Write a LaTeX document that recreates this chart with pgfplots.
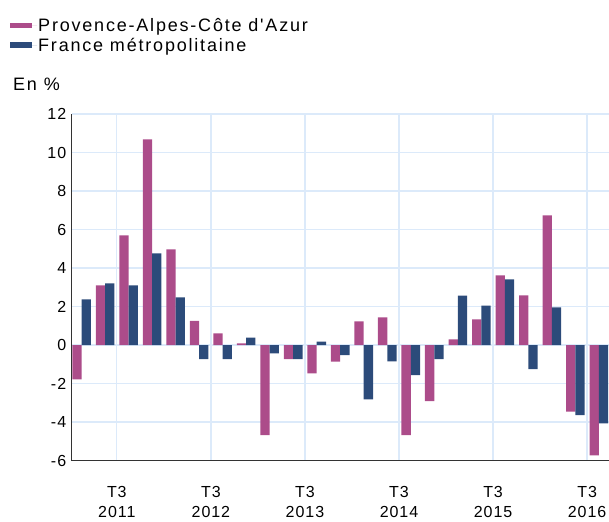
\documentclass[border=0pt]{standalone}
\usepackage{pgfplots}
\pgfplotsset{compat=1.18}
\usepackage{fontspec}
\setmainfont{Liberation Sans}
\newfontfamily\spaced[LetterSpace=10]{Liberation Sans}
\newfontfamily\spacedt[LetterSpace=6]{Liberation Sans}
\definecolor{paca}{HTML}{AC4C8A}
\definecolor{fra}{HTML}{2C4B7A}
\definecolor{gridc}{HTML}{DCEAFA}
\begin{document}
\begin{tikzpicture}
\begin{axis}[
  scale only axis,
  width=537.3bp, height=346.5bp,
  xmin=-0.42, xmax=22.43,
  ymin=-6, ymax=12,
  ytick={-6,-4,...,12},
  xtick={1.5,5.5,9.5,13.5,17.5,21.5},
  xticklabels={{T3\\2011},{T3\\2012},{T3\\2013},{T3\\2014},{T3\\2015},{T3\\2016}},
  xticklabel style={align=center, font=\fontsize{16bp}{20.5bp}\selectfont\spacedt, yshift=-22bp},
  yticklabel style={font=\fontsize{16bp}{18bp}\selectfont\spacedt, xshift=-2bp},
  /pgf/number format/assume math mode=true,
  major tick length=0pt,
  grid=major,
  major grid style={draw=gridc, line width=1.3bp},
  axis lines*=left,
  axis line style={-, draw=black!80, line width=1.3bp},
  ybar, bar width=9.3bp,
  legend style={at={(0,1)}, anchor=north west, xshift=-61.7bp, yshift=97bp,
    draw=none, fill=none, inner sep=0pt, row sep=3bp,
    font=\fontsize{18bp}{20bp}\selectfont\spaced,
    nodes={inner sep=1bp}},
  legend cell align=left,
  legend image code/.code={\fill[#1, draw=none] (0bp,-2.7bp) rectangle (22bp,2.7bp); \path (0bp,0bp) -- (27bp,0bp);},
  clip=false,
]
\addplot[fill=paca, draw=none, bar shift=-4.65bp] coordinates {
(0,-1.78) (1,3.10) (2,5.70) (3,10.68) (4,4.97) (5,1.25) (6,0.61) (7,0.08)
(8,-4.68) (9,-0.74) (10,-1.47) (11,-0.87) (12,1.23) (13,1.44) (14,-4.68)
(15,-2.91) (16,0.29) (17,1.33) (18,3.62) (19,2.58) (20,6.74) (21,-3.46) (22,-5.73)};
\addplot[fill=fra, draw=none, bar shift=4.65bp] coordinates {
(0,2.37) (1,3.20) (2,3.10) (3,4.76) (4,2.48) (5,-0.74) (6,-0.74) (7,0.38)
(8,-0.43) (9,-0.74) (10,0.17) (11,-0.52) (12,-2.82) (13,-0.85) (14,-1.56)
(15,-0.73) (16,2.56) (17,2.04) (18,3.41) (19,-1.25) (20,1.96) (21,-3.64) (22,-4.07)};
\legend{Provence-Alpes-Côte d'Azur, France métropolitaine}
\end{axis}
\node[anchor=base west, inner sep=0pt, font=\fontsize{18bp}{20bp}\selectfont\spaced] at (-58.7bp, 370bp) {En \%};
\pgfresetboundingbox
\useasboundingbox (-71.7bp,-61.5bp) rectangle (537.3bp,460.5bp);
\end{tikzpicture}
\end{document}
